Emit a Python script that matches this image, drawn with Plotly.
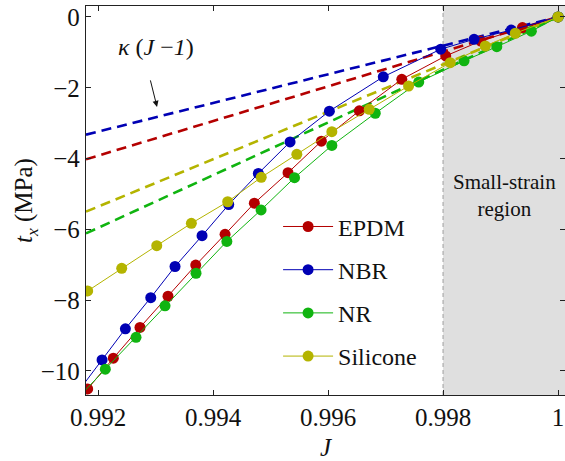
import plotly.graph_objects as go

# Traction t_x (MPa) versus volume ratio J for four rubbers
materials = ["EPDM", "NBR", "NR", "Silicone"]
colors = ["#b40000", "#0000b4", "#10b410", "#b4b400"]

j_epdm = [0.99182, 0.992266, 0.99273, 0.993217, 0.993699, 0.994209, 0.994718,
          0.995304, 0.995884, 0.996544, 0.997282, 0.998046, 0.998656, 0.99938, 1.0]
t_epdm = [-10.51, -9.64, -8.77, -7.89, -7.01, -6.14, -5.26,
          -4.40, -3.51, -2.65, -1.76, -1.10, -0.68, -0.30, 0.0]

j_nbr = [0.99166, 0.99207, 0.992476, 0.992917, 0.993339, 0.993809, 0.994273,
         0.994788, 0.995339, 0.996023, 0.99696, 0.99796, 0.998539, 0.999186, 1.0]
t_nbr = [-10.57, -9.69, -8.81, -7.93, -7.05, -6.18, -5.30,
         -4.42, -3.53, -2.66, -1.69, -0.91, -0.63, -0.37, 0.0]

j_nr = [0.99160, 0.992127, 0.992661, 0.993165, 0.993704, 0.99424, 0.994835,
        0.995417, 0.996066, 0.996821, 0.997577, 0.998365, 0.998934, 0.999535, 1.0]
t_nr = [-10.85, -9.95, -9.05, -8.16, -7.24, -6.34, -5.45,
        -4.54, -3.63, -2.72, -1.84, -1.24, -0.84, -0.40, 0.0]

j_sil = [0.99182, 0.992412, 0.993021, 0.993623, 0.994255, 0.994838, 0.995457,
         0.996066, 0.996716, 0.9974, 0.998125, 0.998734, 0.999256, 1.0]
t_sil = [-7.74, -7.10, -6.46, -5.83, -5.22, -4.53, -3.88,
         -3.24, -2.61, -1.95, -1.29, -0.82, -0.46, 0.0]

# Bulk moduli kappa (MPa) for the linear small-strain law kappa (J - 1)
kappa = [490, 405, 745, 670]

x_ticks = [0.992, 0.994, 0.996, 0.998, 1.0]
x_ticktext = ["0.992", "0.994", "0.996", "0.998", "1"]
y_ticks = [0, -2, -4, -6, -8, -10]
y_ticktext = ["0", "−2", "−4", "−6", "−8", "−10"]

x_range = [0.991791, 1.00012]
y_range = [-10.68, 0.31]
small_strain_start = 0.998

FONT = "Liberation Serif"

fig = go.Figure()

# Linear bulk response lines
for k, c in zip(kappa, colors):
    xs = [x_range[0], 1.0]
    fig.add_trace(go.Scatter(
        x=xs, y=[k * (x - 1.0) for x in xs], mode="lines",
        line=dict(color=c, width=2.6, dash="10px,6px"),
        showlegend=False, hoverinfo="skip"))

series = [(j_epdm, t_epdm), (j_nbr, t_nbr), (j_nr, t_nr), (j_sil, t_sil)]
for name, c, (xs, ys) in zip(materials, colors, series):
    fig.add_trace(go.Scatter(
        x=xs, y=ys, mode="lines+markers", name=name, legendgroup=name,
        line=dict(color=c, width=1),
        marker=dict(color=c, size=11, line=dict(width=0))))

fig.add_shape(type="rect", xref="x", yref="paper",
              x0=small_strain_start, x1=x_range[1], y0=0, y1=1,
              fillcolor="#dfdfdf", line=dict(width=0), layer="below")
fig.add_shape(type="line", xref="x", yref="paper",
              x0=small_strain_start, x1=small_strain_start, y0=0, y1=1,
              line=dict(color="#b0b0b0", width=1.3, dash="4px,3px"), layer="below")

fig.add_annotation(x=0.99906, y=-5.05, xref="x", yref="y",
                   text="Small-strain<br>region", showarrow=False,
                   font=dict(family=FONT, size=21, color="#111"))

fig.add_annotation(x=0.993, y=-0.85, xref="x", yref="y",
                   text="<i>κ</i> (<i>J</i> −<i>1</i>)", showarrow=False,
                   font=dict(family=FONT, size=24, color="#111"))
fig.add_annotation(x=0.993026, y=-2.54, xref="x", yref="y", text="",
                   showarrow=True, ax=-7, ay=-28, arrowhead=2, arrowsize=1.2,
                   arrowwidth=1, arrowcolor="#111")

axis_common = dict(showgrid=False, zeroline=False, showline=True, linecolor="#222",
                   linewidth=1.3, ticks="inside", ticklen=5, tickcolor="#222",
                   mirror="ticks", tickfont=dict(family=FONT, size=25, color="#111"))

fig.update_layout(
    width=565, height=461,
    margin=dict(l=86, r=0, t=6, b=66),
    plot_bgcolor="white", paper_bgcolor="white",
    font=dict(family=FONT, size=24, color="#111"),
    xaxis=dict(range=x_range, tickvals=x_ticks, ticktext=x_ticktext,
               title=dict(text="<i>J</i>", standoff=8,
                          font=dict(family=FONT, size=25, color="#111")),
               **axis_common),
    yaxis=dict(range=y_range, tickvals=y_ticks, ticktext=y_ticktext,
               title=dict(text="<i>t<sub>x</sub></i> (MPa)", standoff=0,
                          font=dict(family=FONT, size=25, color="#111")),
               **axis_common),
    legend=dict(x=0.401, y=0.49, xanchor="left", yanchor="top",
                bgcolor="rgba(0,0,0,0)", font=dict(family=FONT, size=24, color="#111"),
                tracegroupgap=9, itemwidth=50),
)

fig.write_html("out.html")
